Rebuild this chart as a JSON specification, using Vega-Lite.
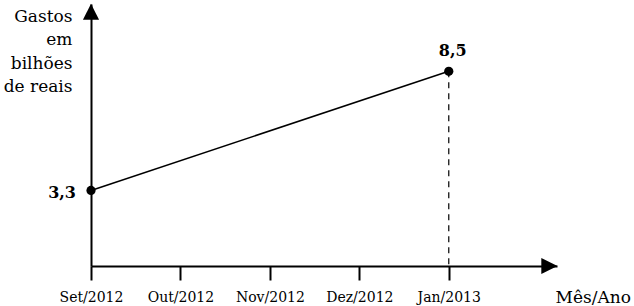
{
  "$schema": "https://vega.github.io/schema/vega-lite/v6.json",
  "autosize": "none",
  "width": 466,
  "height": 262,
  "padding": {"left": 91, "top": 4, "right": 77, "bottom": 40},
  "background": "white",
  "config": {
    "view": {"stroke": null},
    "font": "DejaVu Serif",
    "axis": {"titleFont": "DejaVu Serif", "labelFont": "DejaVu Serif"},
    "style": {"guide-title": {"font": "DejaVu Serif"}, "guide-label": {"font": "DejaVu Serif"}}
  },
  "datasets": {
    "pts": [
      {"x": 0, "mes": "Set/2012", "gasto": 3.3, "label": "3,3"},
      {"x": 4, "mes": "Jan/2013", "gasto": 8.5, "label": "8,5"}
    ],
    "arrows": [
      {"x": 0, "y": 11.1, "dir": "M-1,1L0,-1L1,1Z"},
      {"x": 5.125, "y": 0, "dir": "M-1,-1L1,0L-1,1Z"}
    ]
  },
  "layer": [
    {
      "data": {"name": "pts"},
      "mark": {"type": "line", "color": "black", "strokeWidth": 1.6},
      "encoding": {
        "x": {
          "field": "x", "type": "quantitative",
          "scale": {"domain": [0, 5.21], "nice": false, "zero": false},
          "axis": {
            "values": [0, 1, 2, 3, 4],
            "labelExpr": "['Set/2012','Out/2012','Nov/2012','Dez/2012','Jan/2013'][datum.value]",
            "grid": false,
            "tickSize": 14, "tickWidth": 2, "tickColor": "black",
            "domainColor": "black", "domainWidth": 2,
            "labelFont": "DejaVu Serif", "labelFontSize": 14, "labelColor": "black",
            "labelBaseline": "alphabetic", "labelPadding": 21, "labelFlush": false, "labelOverlap": false,
            "title": "Mês/Ano",
            "titleFont": "DejaVu Serif", "titleFontSize": 17, "titleFontWeight": "normal", "titleColor": "black",
            "titleAlign": "left", "titleBaseline": "alphabetic", "titleX": 464, "titleY": 36
          }
        },
        "y": {
          "field": "gasto", "type": "quantitative",
          "scale": {"domain": [0, 11.44], "nice": false},
          "axis": {
            "grid": false, "ticks": false, "labels": false,
            "domainColor": "black", "domainWidth": 2,
            "title": ["Gastos", "em", "bilhões", "de reais"],
            "titleFont": "DejaVu Serif", "titleFontSize": 17, "titleFontWeight": "normal", "titleColor": "black",
            "titleAngle": 0, "titleAlign": "right", "titleBaseline": "alphabetic",
            "titleX": -19, "titleY": 17, "titleLineHeight": 23.5
          }
        }
      }
    },
    {
      "data": {"name": "pts"},
      "transform": [{"filter": "datum.x == 4"}],
      "mark": {"type": "rule", "color": "black", "strokeWidth": 1.2, "strokeDash": [6, 5]},
      "encoding": {
        "x": {"field": "x", "type": "quantitative"},
        "y": {"field": "gasto", "type": "quantitative"},
        "y2": {"datum": 0}
      }
    },
    {
      "data": {"name": "pts"},
      "mark": {"type": "point", "filled": true, "color": "black", "size": 85, "opacity": 1, "shape": "circle"},
      "encoding": {
        "x": {"field": "x", "type": "quantitative"},
        "y": {"field": "gasto", "type": "quantitative"}
      }
    },
    {
      "data": {"name": "pts"},
      "transform": [{"filter": "datum.x == 0"}],
      "mark": {"type": "text", "font": "DejaVu Serif", "fontSize": 16, "fontWeight": "bold", "color": "black", "align": "right", "baseline": "alphabetic", "dx": -15, "dy": 8},
      "encoding": {
        "x": {"field": "x", "type": "quantitative"},
        "y": {"field": "gasto", "type": "quantitative"},
        "text": {"field": "label"}
      }
    },
    {
      "data": {"name": "pts"},
      "transform": [{"filter": "datum.x == 4"}],
      "mark": {"type": "text", "font": "DejaVu Serif", "fontSize": 16, "fontWeight": "bold", "color": "black", "align": "center", "baseline": "alphabetic", "dx": 4, "dy": -15},
      "encoding": {
        "x": {"field": "x", "type": "quantitative"},
        "y": {"field": "gasto", "type": "quantitative"},
        "text": {"field": "label"}
      }
    },
    {
      "data": {"name": "arrows"},
      "mark": {"type": "point", "filled": true, "color": "black", "opacity": 1, "size": 260},
      "encoding": {
        "x": {"field": "x", "type": "quantitative"},
        "y": {"field": "y", "type": "quantitative"},
        "shape": {"field": "dir", "type": "nominal", "scale": null}
      }
    }
  ]
}
